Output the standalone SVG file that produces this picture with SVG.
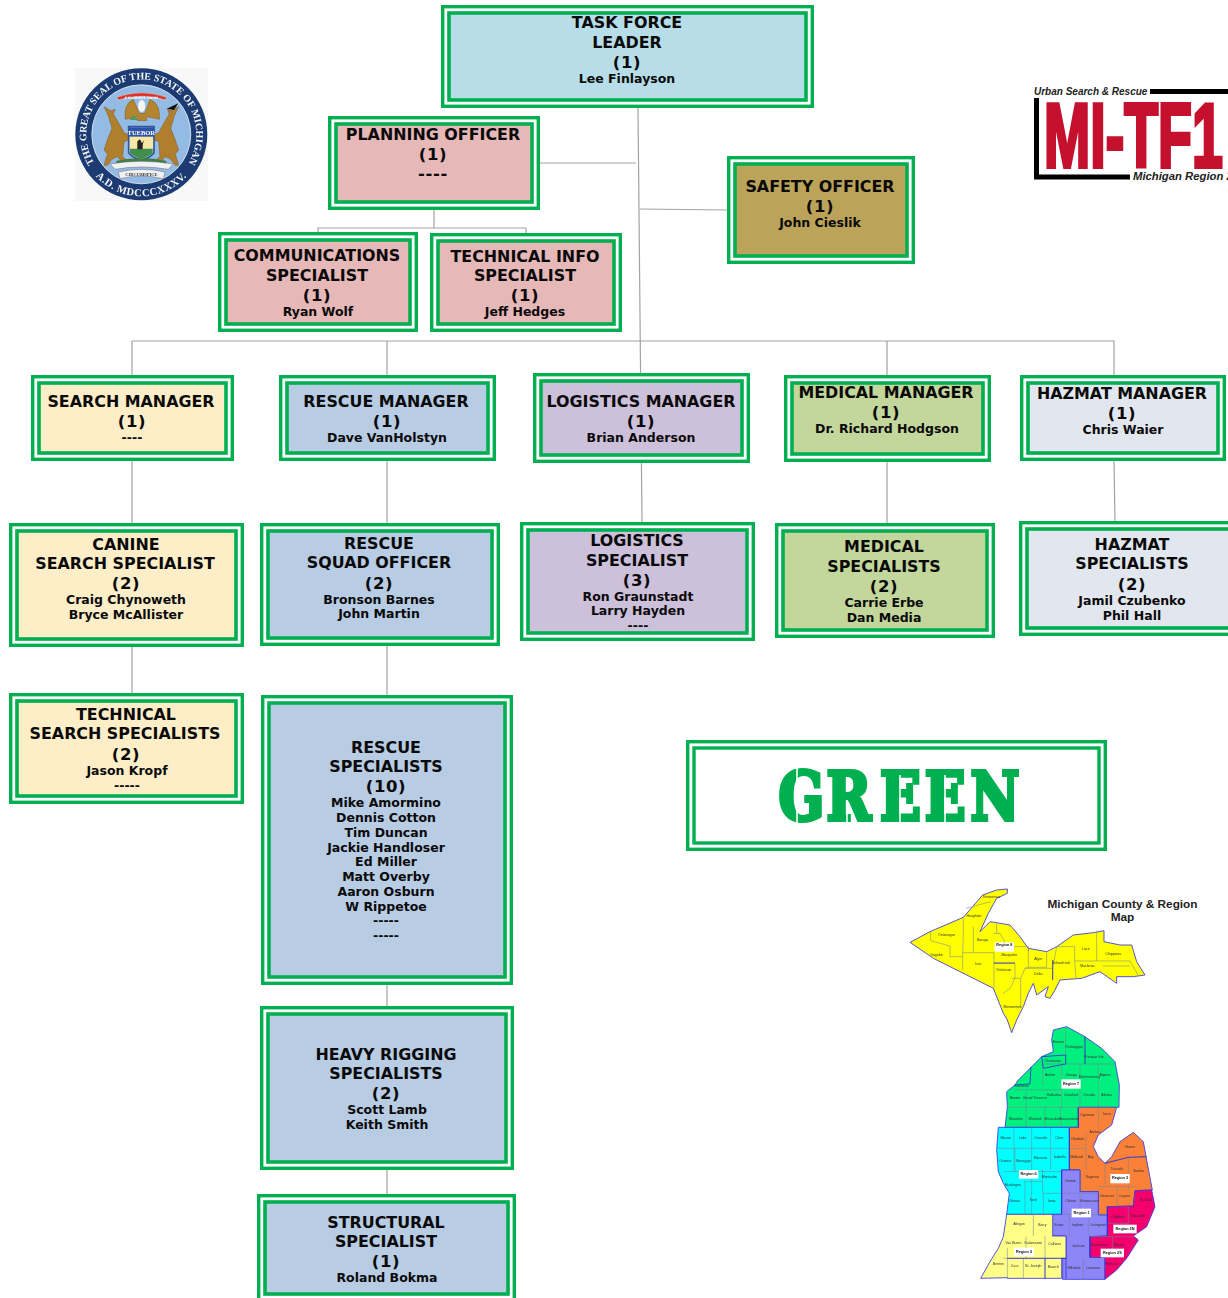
<svg xmlns="http://www.w3.org/2000/svg" width="1228" height="1298" viewBox="0 0 1228 1298">
<defs>
<style>
.o{fill:#fff;stroke:#00b050;stroke-width:3.4}
.i{stroke:#00b050;stroke-width:3.6}
text{font-family:"DejaVu Sans",Verdana,sans-serif;font-weight:700;fill:#0a0a0a;text-anchor:middle}
.t{font-size:15.9px}
.c{font-size:16.5px;letter-spacing:.6px}
.n{font-size:12.5px}
.cn{stroke:#a3a3a3;stroke-width:1.2;fill:none}
.cl{font-family:"Liberation Sans",Arial,sans-serif;font-weight:400;font-size:10.5px;fill:#333}
.rl{fill:#fff}
.rt{font-family:"Liberation Sans",Arial,sans-serif;font-size:11.5px;fill:#111}
.reg{stroke:#3a3ae0;stroke-width:2.6;stroke-linejoin:round}
.ln{stroke:#71858f;stroke-width:1.6;fill:none}
.bl{stroke:#2a2ad8;stroke-width:2.4;fill:none}
.ser{font-family:"Liberation Serif","Times New Roman",serif}
.deer{fill:#b07f2f;stroke:#7c5a22;stroke-width:1.5}
</style>
<filter id="soft" x="-5%" y="-5%" width="110%" height="110%"><feGaussianBlur stdDeviation=".35"/></filter>
<path id="sealTop" d="M93.200 161A55 55 0 1 1 189.400 161"/>
<path id="sealBot" d="M96 176.600A62 62 0 0 0 186.600 176.600"/>
</defs>

<g id="connectors" class="cn">
<path d="M638 108L642 523"/>
<path d="M540 163H636"/>
<path d="M640 209L727 210"/>
<path d="M434 210V228M318 232V228H526V233"/>
<path d="M132 375V341H1114V375M387 341V375M887 341V375"/>
<path d="M132 461V523M387 461V523M887 462V523M1114 461L1115 521"/>
<path d="M132 647V693M387 646V695M387 985V1006M387 1170V1194"/>
</g>

<g id="task-force-leader"><rect class="o" x="442.700" y="6.700" width="369.600" height="99.600"/><rect class="i" fill="#b7dde8" x="449" y="13" width="357" height="87"/>
<text class="t" x="627" y="28">TASK FORCE</text><text class="t" x="627" y="48">LEADER</text><text class="c" x="627" y="68">(1)</text><text class="n" x="627" y="83">Lee Finlayson</text></g>

<g id="planning-officer"><rect class="o" x="329.700" y="117.700" width="208.600" height="90.600"/><rect class="i" fill="#e6b8b7" x="336" y="124" width="196" height="78"/>
<text class="t" x="433" y="140">PLANNING OFFICER</text><text class="c" x="433" y="160">(1)</text><text class="c" x="433" y="179">----</text></g>

<g id="safety-officer"><rect class="o" x="728.700" y="157.700" width="184.600" height="104.600"/><rect class="i" fill="#bba35a" x="735" y="164" width="172" height="92"/>
<text class="t" x="820" y="192">SAFETY OFFICER</text><text class="c" x="820" y="212">(1)</text><text class="n" x="820" y="227">John Cieslik</text></g>

<g id="communications-specialist"><rect class="o" x="219.700" y="233.700" width="196.600" height="96.600"/><rect class="i" fill="#e6b8b7" x="226" y="240" width="184" height="84"/>
<text class="t" x="317" y="261">COMMUNICATIONS</text><text class="t" x="317" y="281">SPECIALIST</text><text class="c" x="317" y="301">(1)</text><text class="n" x="318" y="316">Ryan Wolf</text></g>

<g id="technical-info-specialist"><rect class="o" x="431.700" y="234.700" width="188.600" height="95.600"/><rect class="i" fill="#e6b8b7" x="438" y="241" width="176" height="83"/>
<text class="t" x="525" y="262">TECHNICAL INFO</text><text class="t" x="525" y="281">SPECIALIST</text><text class="c" x="525" y="301">(1)</text><text class="n" x="525" y="316">Jeff Hedges</text></g>

<g id="search-manager"><rect class="o" x="32.700" y="376.700" width="199.600" height="82.600"/><rect class="i" fill="#fdeec8" x="39" y="383" width="187" height="70"/>
<text class="t" x="131" y="407">SEARCH MANAGER</text><text class="c" x="132" y="427">(1)</text><text class="n" x="132" y="442">----</text></g>

<g id="rescue-manager"><rect class="o" x="280.700" y="376.700" width="213.600" height="82.600"/><rect class="i" fill="#b8cce4" x="287" y="383" width="201" height="70"/>
<text class="t" x="386" y="407">RESCUE MANAGER</text><text class="c" x="387" y="427">(1)</text><text class="n" x="387" y="442">Dave VanHolstyn</text></g>

<g id="logistics-manager"><rect class="o" x="534.700" y="374.700" width="213.600" height="86.600"/><rect class="i" fill="#ccc0da" x="541" y="381" width="201" height="74"/>
<text class="t" x="641" y="407">LOGISTICS MANAGER</text><text class="c" x="641" y="427">(1)</text><text class="n" x="641" y="442">Brian Anderson</text></g>

<g id="medical-manager"><rect class="o" x="785.700" y="376.700" width="203.600" height="83.600"/><rect class="i" fill="#c3d69b" x="792" y="383" width="191" height="71"/>
<text class="t" x="886" y="398">MEDICAL MANAGER</text><text class="c" x="886" y="418">(1)</text><text class="n" x="887" y="433">Dr. Richard Hodgson</text></g>

<g id="hazmat-manager"><rect class="o" x="1021.700" y="376.700" width="202.600" height="82.600"/><rect class="i" fill="#e2e7ef" x="1028" y="383" width="190" height="70"/>
<text class="t" x="1122" y="399">HAZMAT MANAGER</text><text class="c" x="1122" y="419">(1)</text><text class="n" x="1123" y="434">Chris Waier</text></g>

<g id="canine-search-specialist"><rect class="o" x="10.700" y="524.700" width="231.600" height="120.600"/><rect class="i" fill="#fdeec8" x="17" y="531" width="219" height="108"/>
<text class="t" x="126" y="550">CANINE</text><text class="t" x="125" y="569">SEARCH SPECIALIST</text><text class="c" x="126" y="589">(2)</text><text class="n" x="126" y="604">Craig Chynoweth</text><text class="n" x="126" y="619">Bryce McAllister</text></g>

<g id="rescue-squad-officer"><rect class="o" x="261.700" y="524.700" width="236.600" height="119.600"/><rect class="i" fill="#b8cce4" x="268" y="531" width="224" height="107"/>
<text class="t" x="379" y="549">RESCUE</text><text class="t" x="379" y="568">SQUAD OFFICER</text><text class="c" x="379" y="589">(2)</text><text class="n" x="379" y="604">Bronson Barnes</text><text class="n" x="379" y="618">John Martin</text></g>

<g id="logistics-specialist"><rect class="o" x="521.700" y="523.700" width="231.600" height="115.600"/><rect class="i" fill="#ccc0da" x="528" y="530" width="219" height="103"/>
<text class="t" x="637" y="546">LOGISTICS</text><text class="t" x="637" y="566">SPECIALIST</text><text class="c" x="637" y="586">(3)</text><text class="n" x="638" y="601">Ron Graunstadt</text><text class="n" x="638" y="615">Larry Hayden</text><text class="n" x="638" y="630">----</text></g>

<g id="medical-specialists"><rect class="o" x="776.700" y="524.700" width="216.600" height="111.600"/><rect class="i" fill="#c3d69b" x="783" y="531" width="204" height="99"/>
<text class="t" x="884" y="552">MEDICAL</text><text class="t" x="884" y="572">SPECIALISTS</text><text class="c" x="884" y="592">(2)</text><text class="n" x="884" y="607">Carrie Erbe</text><text class="n" x="884" y="622">Dan Media</text></g>

<g id="hazmat-specialists"><rect class="o" x="1020.700" y="522.700" width="212" height="111.600"/><rect class="i" fill="#e2e7ef" x="1027" y="529" width="205" height="99"/>
<text class="t" x="1132" y="550">HAZMAT</text><text class="t" x="1132" y="569">SPECIALISTS</text><text class="c" x="1132" y="590">(2)</text><text class="n" x="1132" y="605">Jamil Czubenko</text><text class="n" x="1132" y="620">Phil Hall</text></g>

<g id="technical-search-specialists"><rect class="o" x="10.700" y="694.700" width="231.600" height="107.600"/><rect class="i" fill="#fdeec8" x="17" y="701" width="219" height="95"/>
<text class="t" x="126" y="720">TECHNICAL</text><text class="t" x="125" y="739">SEARCH SPECIALISTS</text><text class="c" x="126" y="760">(2)</text><text class="n" x="127" y="775">Jason Kropf</text><text class="n" x="127" y="790">-----</text></g>

<g id="rescue-specialists"><rect class="o" x="262.700" y="696.700" width="248.600" height="286.600"/><rect class="i" fill="#b8cce4" x="269" y="703" width="236" height="274"/>
<text class="t" x="386" y="753">RESCUE</text><text class="t" x="386" y="772">SPECIALISTS</text><text class="c" x="386" y="792">(10)</text><text class="n" x="386" y="807">Mike Amormino</text><text class="n" x="386" y="822">Dennis Cotton</text><text class="n" x="386" y="837">Tim Duncan</text><text class="n" x="386" y="852">Jackie Handloser</text><text class="n" x="386" y="866">Ed Miller</text><text class="n" x="386" y="881">Matt Overby</text><text class="n" x="386" y="896">Aaron Osburn</text><text class="n" x="386" y="911">W Rippetoe</text><text class="n" x="386" y="925">-----</text><text class="n" x="386" y="940">-----</text></g>

<g id="heavy-rigging-specialists"><rect class="o" x="261.700" y="1007.700" width="250.600" height="160.600"/><rect class="i" fill="#b8cce4" x="268" y="1014" width="238" height="148"/>
<text class="t" x="386" y="1060">HEAVY RIGGING</text><text class="t" x="386" y="1079">SPECIALISTS</text><text class="c" x="386" y="1099">(2)</text><text class="n" x="387" y="1114">Scott Lamb</text><text class="n" x="387" y="1129">Keith Smith</text></g>

<g id="structural-specialist"><rect class="o" x="258.700" y="1195.700" width="255.600" height="110"/><rect class="i" fill="#b8cce4" x="265" y="1202" width="243" height="92"/>
<text class="t" x="386" y="1228">STRUCTURAL</text><text class="t" x="386" y="1247">SPECIALIST</text><text class="c" x="386" y="1267">(1)</text><text class="n" x="387" y="1282">Roland Bokma</text></g>

<g id="green-sign"><rect class="o" x="687.700" y="741.700" width="417.600" height="107.600"/><rect class="o" x="694" y="748" width="405" height="95"/>
<text transform="translate(0 820) scale(.8 1)" x="973 1033 1100 1156 1213" y="0" style="font-family:'DejaVu Serif',serif;font-size:67px;text-anchor:start;fill:#00b050;stroke:#00b050;stroke-width:4.200">GREEN</text>
<path d="M797 767V824M847 800V824M900 775V824M945 775V824" stroke="#fff" stroke-width="1.600" fill="none"/></g>

<g id="state-seal" filter="url(#soft)">
<rect x="75" y="68" width="133" height="133" fill="#f8f8f8"/>
<circle cx="141.300" cy="134.300" r="66" fill="#1c3b73"/>
<circle cx="141.300" cy="134.300" r="49.500" fill="#94bbe4" stroke="#e8eef6" stroke-width=".8"/>
<text class="ser" style="fill:#f4f6fa;font-size:10px"><textPath href="#sealTop" startOffset="50%">THE GREAT SEAL OF THE STATE OF MICHIGAN</textPath></text>
<text class="ser" style="fill:#f4f6fa;font-size:10.500px;letter-spacing:.5px"><textPath href="#sealBot" startOffset="50%">A.D. MDCCCXXXV.</textPath></text>
<g transform="scale(.33333)">
<path d="M350 292Q425 265 500 292L496 300Q425 278 356 300Z" fill="#d9342b" stroke="#fff" stroke-width="1"/>
<path d="M376 358Q370 312 400 298L418 340H434L450 298Q482 312 478 358L440 350V362H412V350Z" fill="#b5842f" stroke="#7c5a22" stroke-width="1.500"/>
<ellipse cx="425" cy="318" rx="11" ry="18" fill="#f4f4f4"/>
<path d="M388 360L402 345L414 360Z" fill="#4f9a5c"/>
<path class="deer" d="M312 320L332 332L346 328L340 342L358 372L372 398L386 404V420L372 425L368 470L382 482L372 492L352 470L336 478L322 496H312L322 462L312 450L322 420L336 385L325 348Z"/>
<path class="deer" d="M536 320L516 332L502 328L508 342L490 372L476 398L462 404V420L476 425L480 470L466 482L476 492L496 470L512 478L526 496H536L526 462L536 450L526 420L512 385L523 348Z"/>
<path d="M500 326L535 310L522 330Z" fill="#111"/>
<path d="M386 380H462V458Q450 474 424 480Q398 474 386 458Z" fill="#f6e7a5" stroke="#2d55a5" stroke-width="5"/>
<rect x="386" y="382" width="76" height="28" fill="#2d55a5"/>
<path d="M390 446H458V458Q448 470 424 476Q400 470 390 458Z" fill="#3f8f4f"/>
<path d="M412 448V424L420 418L426 430L432 420L428 436L428 448Z" fill="#222"/>
<path d="M350 482Q424 468 498 482L500 490H348Z" fill="#3c7f45"/>
<path d="M330 492Q424 476 520 492L505 508Q424 494 345 508Z" fill="#f2f2f2" stroke="#667" stroke-width="1.500"/>
<path d="M355 516Q424 500 495 516L490 536Q424 520 360 536Z" fill="#f2f2f2" stroke="#667" stroke-width="1.500"/>
</g>
<text x="141.300" y="99" style="font-size:3.200px;fill:#fff">E PLURIBUS UNUM</text>
<text x="141.300" y="135" class="ser" style="font-size:6.500px;fill:#fff">TUEBOR</text>
<text x="141.300" y="176" class="ser" style="font-size:4.500px;fill:#333">CIRCUMSPICE</text>
</g>

<g id="mi-tf1-logo">
<path d="M1036.500 98V177H1130M1150 91.500H1228" fill="none" stroke="#000" stroke-width="5"/>
<text x="1034" y="95" style="font-family:'Liberation Sans',Arial,sans-serif;font-size:10px;font-style:italic;text-anchor:start;fill:#222">Urban Search &amp; Rescue</text>
<text x="1133" y="180" style="font-family:'Liberation Sans',Arial,sans-serif;font-size:11.300px;font-style:italic;text-anchor:start;fill:#222">Michigan Region 2</text>
<text transform="translate(1044 167) scale(.61 1)" x="0" y="0" style="font-family:'Liberation Sans',Arial,sans-serif;font-size:91px;text-anchor:start;fill:#c5102e;stroke:#c5102e;stroke-width:4">MI-TF1</text>
</g>

<g id="michigan-map">
<text x="1122.500" y="908" style="font-family:'Liberation Sans',Arial,sans-serif;font-size:11.800px;fill:#222">Michigan County &amp; Region</text>
<text x="1122.500" y="921" style="font-family:'Liberation Sans',Arial,sans-serif;font-size:11.800px;fill:#222">Map</text>

<g id="upper-peninsula" transform="translate(900 880) scale(.33333)" filter="url(#soft)">
<path class="reg" fill="#ffff00" d="M30 187L90 155L190 112L218 80L248 45L290 30L322 27L322 40L290 55L265 100L240 155L270 125L290 128L330 135L360 170L385 205L440 215L470 200L520 165L580 158L612 152L612 185L660 195L695 195L710 245L735 285L700 290L650 290L650 310L600 275L545 295L480 300L465 330L450 355L435 350L445 320L410 345L400 310L385 340L370 380L350 420L335 458L322 420L310 400L300 375L280 325L200 285L100 235Z"/>
<path class="ln" d="M92 155V182L150 198V230L188 230M188 218H282M190 112V160L188 218V270M198 85L272 65M220 140V218M290 128V160M282 218V325M282 160H300L322 200H385V215M385 205V262L375 265L362 295V380M385 262H440V215M282 250H345V295L330 325L310 340M335 295H362M375 265H445L458 265M458 265V300M470 200H524V243H590V152M470 200L458 265M524 243L528 295M590 243H690L715 287M608 258H690"/>
<path class="bl" d="M282 249H345M458 240V300"/>
<rect class="rl" x="284" y="187" width="58" height="28"/>
<g class="cl" text-anchor="middle">
<text class="cl" x="275" y="53">Keweenaw</text><text class="cl" x="222" y="110">Houghton</text><text class="cl" x="140" y="169">Ontonagon</text><text class="cl" x="110" y="227">Gogebic</text><text class="cl" x="248" y="183">Baraga</text><text class="cl" x="235" y="256">Iron</text><text class="cl" x="328" y="227">Marquette</text><text class="cl" x="312" y="272">Dickinson</text><text class="cl" x="415" y="241">Alger</text><text class="cl" x="483" y="251">Schoolcraft</text><text class="cl" x="558" y="211">Luce</text><text class="cl" x="640" y="226">Chippewa</text><text class="cl" x="563" y="261">Mackinac</text><text class="cl" x="415" y="284">Delta</text><text class="cl" x="338" y="384">Menominee</text>
</g>
<text class="rt" x="313" y="199">Region 8</text>
</g>

<g id="lower-peninsula" transform="translate(970 1020) scale(.33333)" filter="url(#soft)">
<path class="reg" fill="#00f080" d="M250 30L290 20L345 50L395 85L435 125L448 195L447 262L325 262L325 322L105 322L112 262L110 215L135 195L145 180L185 140L215 110L250 95L245 60Z"/>
<path class="reg" fill="#fb8038" d="M325 262L440 262L425 315L385 345L370 380L385 410L405 430L425 410L450 365L490 337L520 365L530 420L547 510L495 512L490 558L412 560L412 585L385 585L385 515L330 515L330 450L298 450L298 322L325 322Z"/>
<path class="reg" fill="#00ffff" d="M85 322H298V450H275V583H110L118 520L100 490L85 455L80 390Z"/>
<path class="reg" fill="#8d86f8" d="M275 450H330V515H385V585H412V648L360 650V712H405V778H278V715H288V648H228L248 583H275Z"/>
<path class="reg" fill="#ffff88" d="M110 583H248V648H288V715H275V775H112V773L32 775L60 725L85 685L100 650Z"/>
<path class="reg" fill="#f4006e" d="M495 512L545 510L555 560L530 620L490 648L505 660L470 715L440 750L405 778V712H360V650L412 648V560L490 558Z"/>
<path class="ln" d="M287 20V110M345 50V132M215 132H435M218 132V195M275 132V262M330 132V262M385 132V262M135 210H275M168 215V322M225 262V322M272 262V322M112 262H447M385 262V320M298 322V450M132 322V450M185 322V583M242 322V450M80 385H298M298 385H348M348 340V450M135 385V455M100 455H275M165 485V583M220 520V583M163 485H218M218 450V520M220 520H275M275 520H385M330 515V583M385 500H495M442 500V560M405 430V495M475 412V510M405 430L475 412L530 410M190 583V648M248 583V650M298 583V650M355 583V650M412 583H275M475 560V610M412 610H475M428 650V712M360 650H490M168 650V715M225 648V775M100 715H288M160 715V775M112 685V775M340 715V778M330 450V515"/>
<path class="bl" d="M215 110L287 105V132L220 145ZM135 195L180 192L183 140M345 50V132M325 262V322M298 322V450M275 450V583M412 560V648M360 650V712M112 715H288V775M225 715V775M405 430L475 412L530 410"/>
<g>
<rect class="rl" x="274" y="178" width="58" height="28"/><rect class="rl" x="147" y="450" width="58" height="26"/><rect class="rl" x="421" y="462" width="58" height="28"/><rect class="rl" x="305" y="566" width="58" height="26"/><rect class="rl" x="430" y="614" width="70" height="26"/><rect class="rl" x="392" y="686" width="70" height="26"/><rect class="rl" x="132" y="683" width="60" height="26"/>
</g>
<text class="cl" x="265" y="68">Emmet</text><text class="cl" x="312" y="85">Cheboygan</text><text class="cl" x="372" y="113">Presque Isle</text><text class="cl" x="248" y="125">Charlevoix</text><text class="cl" x="240" y="168">Antrim</text><text class="cl" x="303" y="168">Otsego</text><text class="cl" x="358" y="175">Montmorency</text><text class="cl" x="405" y="168">Alpena</text><text class="cl" x="155" y="201">Leelanau</text><text class="cl" x="135" y="238">Benzie</text><text class="cl" x="195" y="238">Grand Traverse</text><text class="cl" x="252" y="228">Kalkaska</text><text class="cl" x="303" y="228">Crawford</text><text class="cl" x="357" y="228">Oscoda</text><text class="cl" x="410" y="228">Alcona</text><text class="cl" x="138" y="300">Manistee</text><text class="cl" x="195" y="300">Wexford</text><text class="cl" x="248" y="300">Missaukee</text><text class="cl" x="298" y="300">Roscommon</text><text class="cl" x="352" y="288">Ogemaw</text><text class="cl" x="411" y="284">Iosco</text><text class="cl" x="375" y="339">Arenac</text><text class="cl" x="107" y="357">Mason</text><text class="cl" x="158" y="357">Lake</text><text class="cl" x="212" y="357">Osceola</text><text class="cl" x="268" y="357">Clare</text><text class="cl" x="323" y="361">Gladwin</text><text class="cl" x="480" y="385">Huron</text><text class="cl" x="106" y="427">Oceana</text><text class="cl" x="160" y="427">Newaygo</text><text class="cl" x="211" y="416">Mecosta</text><text class="cl" x="269" y="415">Isabella</text><text class="cl" x="320" y="415">Midland</text><text class="cl" x="362" y="415">Bay</text><text class="cl" x="440" y="451">Tuscola</text><text class="cl" x="507" y="455">Sanilac</text><text class="cl" x="128" y="498">Muskegon</text><text class="cl" x="238" y="473">Montcalm</text><text class="cl" x="301" y="487">Gratiot</text><text class="cl" x="367" y="475">Saginaw</text><text class="cl" x="133" y="546">Ottawa</text><text class="cl" x="190" y="543">Kent</text><text class="cl" x="245" y="546">Ionia</text><text class="cl" x="302" y="546">Clinton</text><text class="cl" x="357" y="546">Shiawassee</text><text class="cl" x="412" y="530">Genesee</text><text class="cl" x="465" y="530">Lapeer</text><text class="cl" x="527" y="543">St. Clair</text><text class="cl" x="147" y="615">Allegan</text><text class="cl" x="217" y="619">Barry</text><text class="cl" x="267" y="619">Eaton</text><text class="cl" x="323" y="619">Ingham</text><text class="cl" x="385" y="619">Livingston</text><text class="cl" x="443" y="595">Oakland</text><text class="cl" x="504" y="590">Macomb</text><text class="cl" x="130" y="671">Van Buren</text><text class="cl" x="190" y="671">Kalamazoo</text><text class="cl" x="254" y="676">Calhoun</text><text class="cl" x="325" y="681">Jackson</text><text class="cl" x="387" y="678">Washtenaw</text><text class="cl" x="445" y="678">Wayne</text><text class="cl" x="85" y="736">Berrien</text><text class="cl" x="134" y="740">Cass</text><text class="cl" x="190" y="740">St. Joseph</text><text class="cl" x="250" y="743">Branch</text><text class="cl" x="312" y="746">Hillsdale</text><text class="cl" x="370" y="748">Lenawee</text><text class="cl" x="425" y="736">Monroe</text>
<text class="rt" x="303" y="195">Region 7</text><text class="rt" x="176" y="466">Region 6</text><text class="rt" x="450" y="478">Region 3</text><text class="rt" x="335" y="582">Region 1</text><text class="rt" x="465" y="631">Region 2N</text><text class="rt" x="427" y="702">Region 2S</text><text class="rt" x="162" y="699">Region 5</text>
</g>
</g>
</svg>
